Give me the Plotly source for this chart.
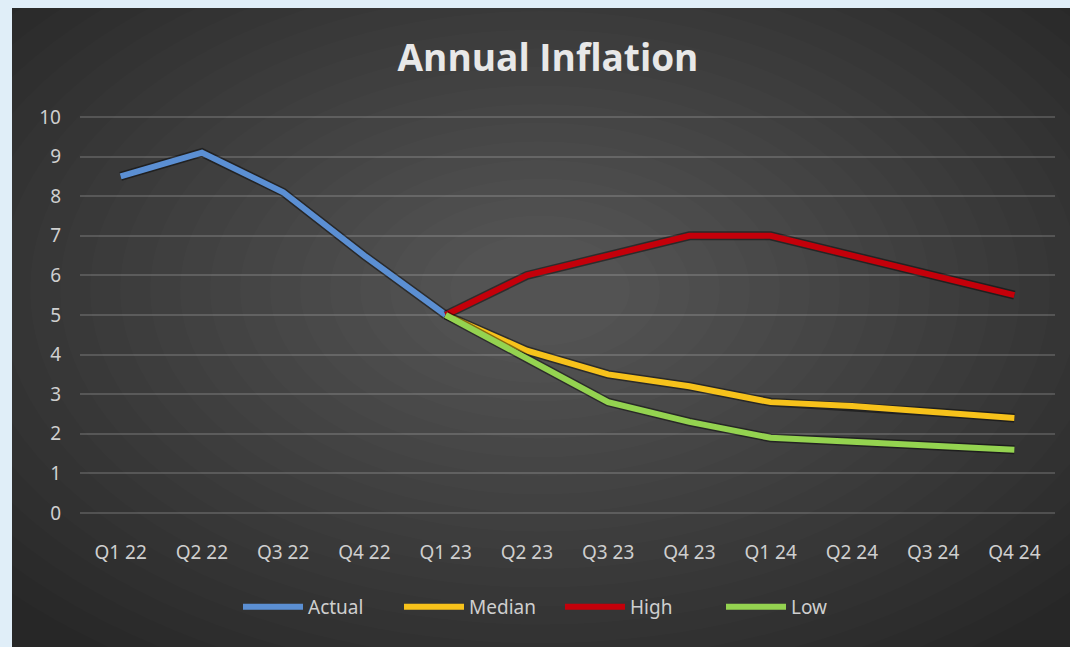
import plotly.graph_objects as go

# Quarter labels along the x axis
quarters = ["Q1 22", "Q2 22", "Q3 22", "Q4 22", "Q1 23", "Q2 23",
            "Q3 23", "Q4 23", "Q1 24", "Q2 24", "Q3 24", "Q4 24"]

# Outturn up to Q1 23, then the three forecast paths from Q1 23 on
actual_q = quarters[:5]
actual = [8.5, 9.1, 8.1, 6.5, 5.0]

forecast_q = quarters[4:]
median = [5.0, 4.1, 3.5, 3.2, 2.8, 2.7, 2.55, 2.4]
high = [5.0, 6.0, 6.5, 7.0, 7.0, 6.5, 6.0, 5.5]
low = [5.0, 3.9, 2.8, 2.3, 1.9, 1.8, 1.7, 1.6]

y_ticks = list(range(0, 11))

series = [
    ("Actual", actual_q, actual, "#5b8fd3"),
    ("Median", forecast_q, median, "#f7c21b"),
    ("High", forecast_q, high, "#c4000a"),
    ("Low", forecast_q, low, "#94d350"),
]

W, H = 1070, 647
# y range is padded a touch so the 0 and 10 gridlines are drawn
pad = 0.05
unit = 39.6
L, R = 80, 15
T = round(117 - pad * unit)
B = round(H - 513 - pad * unit)
pw, ph = W - L - R, H - T - B


def px_x(p):
    return (p - L) / pw


def px_y(p):
    return (H - B - p) / ph


fig = go.Figure()

# soft dark shadow under each line, then the line itself
for name, xs, ys, color in series:
    fig.add_trace(go.Scatter(
        x=xs, y=ys, mode="lines", showlegend=False, hoverinfo="skip",
        line=dict(color="rgba(0,0,0,0.45)", width=9),
    ))
    fig.add_trace(go.Scatter(
        x=xs, y=ys, mode="lines", name=name,
        line=dict(color=color, width=6),
    ))

shapes = []
# dark chart background
shapes.append(dict(type="rect", xref="paper", yref="paper", layer="below",
                   x0=px_x(0), x1=px_x(W), y0=px_y(H), y1=px_y(0),
                   fillcolor="#272727", line=dict(width=0)))
# radial lightening towards the upper middle
cx, cy = 540, 290
n = 22
for i in range(n):
    rx = 720 - i * 30
    ry = rx * 0.62
    shapes.append(dict(type="circle", xref="paper", yref="paper", layer="below",
                       x0=px_x(cx - rx), x1=px_x(cx + rx),
                       y0=px_y(cy + ry), y1=px_y(cy - ry),
                       fillcolor="rgba(255,255,255,0.011)", line=dict(width=0)))
# pale frame on the left and top edges
shapes.append(dict(type="rect", xref="paper", yref="paper", layer="below",
                   x0=px_x(0), x1=px_x(12), y0=px_y(H), y1=px_y(0),
                   fillcolor="#e0eef8", line=dict(width=0)))
shapes.append(dict(type="rect", xref="paper", yref="paper", layer="below",
                   x0=px_x(0), x1=px_x(W), y0=px_y(8), y1=px_y(0),
                   fillcolor="#e0eef8", line=dict(width=0)))

label_font = dict(family="Noto Sans", size=19, color="#cfcfcf")

fig.update_layout(
    width=W, height=H,
    margin=dict(l=L, r=R, t=T, b=B),
    paper_bgcolor="#272727",
    plot_bgcolor="rgba(0,0,0,0)",
    shapes=shapes,
    title=dict(text="<b>Annual Inflation</b>", x=548 / W, xanchor="center",
               y=1 - 58 / H, yanchor="middle",
               font=dict(family="Open Sans", size=37, color="#e8e8e8")),
    xaxis=dict(
        type="category", categoryorder="array", categoryarray=quarters,
        range=[-0.5, len(quarters) - 0.5],
        showgrid=False, zeroline=False, showline=False,
        ticks="", ticklabelstandoff=24, tickfont=label_font,
    ),
    yaxis=dict(
        range=[-pad, 10 + pad], tickvals=y_ticks,
        ticktext=[str(v) for v in y_ticks],
        showgrid=True, gridcolor="rgba(255,255,255,0.16)", gridwidth=2,
        zeroline=False, showline=False, ticks="", ticklabelstandoff=18,
        tickfont=label_font,
    ),
    legend=dict(
        orientation="h", x=px_x(560), xanchor="center",
        y=px_y(607), yanchor="middle",
        font=label_font, bgcolor="rgba(0,0,0,0)", itemwidth=60,
        entrywidth=86, entrywidthmode="pixels",
    ),
    showlegend=True,
)

fig.write_html("out.html")
